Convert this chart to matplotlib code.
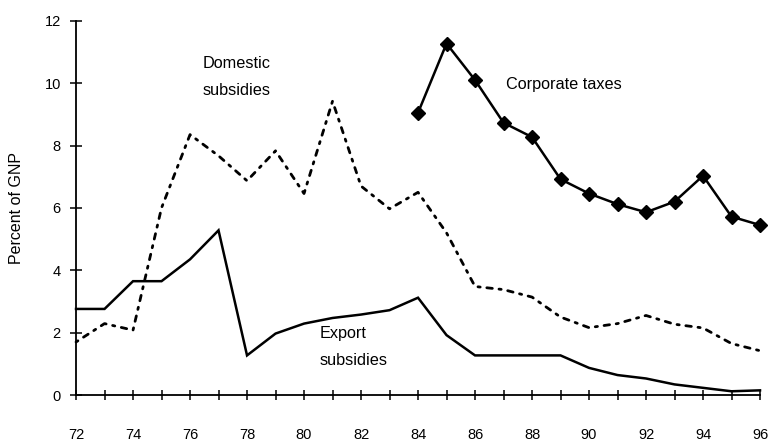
import matplotlib
matplotlib.use("Agg")
import matplotlib.pyplot as plt

years = list(range(72, 97))
export_subsidies = [2.76, 2.76, 3.65, 3.65, 4.35, 5.28, 1.27, 1.97, 2.29, 2.47, 2.58, 2.72, 3.12,
                    1.92, 1.27, 1.27, 1.27, 1.27, 0.87, 0.64, 0.53, 0.34, 0.23, 0.12, 0.15]
domestic_subsidies = [1.7, 2.29, 2.08, 6.0, 8.35, 7.67, 6.87, 7.83, 6.46, 9.42, 6.7, 5.97, 6.5,
                      5.2, 3.48, 3.38, 3.14, 2.5, 2.16, 2.29, 2.55, 2.27, 2.15, 1.65, 1.42]
corp_years = list(range(84, 97))
corporate_taxes = [9.05, 11.27, 10.1, 8.73, 8.27, 6.92, 6.46, 6.12, 5.86, 6.2, 7.03, 5.72, 5.45]

xtick_labels = [str(y) for y in range(72, 97, 2)]
yticks = [0, 2, 4, 6, 8, 10, 12]

plt.rcParams['font.family'] = ['Liberation Sans', 'DejaVu Sans']

fig = plt.figure(figsize=(7.68, 4.42), dpi=100)
ax = fig.add_axes([0.099, 0.1063, 0.8906, 0.8467])

ax.plot(years, export_subsidies, color='black', lw=1.8, solid_joinstyle='miter', clip_on=False)
ax.plot(years, domestic_subsidies, color='black', lw=2.0,
        linestyle=(0, (0.8, 2.4, 2.0, 2.4)), dash_capstyle='round', clip_on=False)
ax.plot(corp_years, corporate_taxes, color='black', lw=1.8, marker='D', markersize=7.5,
        clip_on=False)

ax.set_xlim(72, 96)
ax.set_ylim(0, 12)
for s in ['top', 'right']:
    ax.spines[s].set_visible(False)
for s in ['left', 'bottom']:
    ax.spines[s].set_linewidth(1.3)

ax.set_xticks(years)
ax.set_xticklabels([str(y) if str(y) in xtick_labels else '' for y in years])
ax.set_yticks(yticks)
ax.set_yticklabels([str(v) for v in yticks])
ax.tick_params(axis='x', direction='inout', length=7, width=1.1, pad=20.5, labelsize=10.5)
ax.tick_params(axis='y', direction='inout', length=8, width=1.1, pad=7, labelsize=10.5)

ax.set_ylabel('Percent of GNP', fontsize=11.5, labelpad=15)

ax.text(76.45, 10.2, 'Domestic\nsubsidies', fontsize=11.7, ha='left', va='center', linespacing=2.0)
ax.text(87.1, 9.95, 'Corporate taxes', fontsize=11.7, ha='left', va='center')
ax.text(80.55, 1.55, 'Export\nsubsidies', fontsize=11.7, ha='left', va='center', linespacing=2.0)

fig.savefig('out.png', dpi=100)
